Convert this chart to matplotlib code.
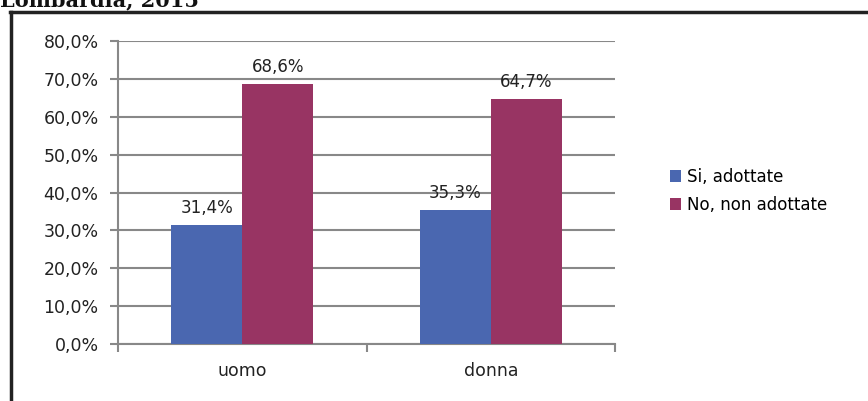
import matplotlib.pyplot as plt
from matplotlib.lines import Line2D
import numpy as np

categories = ['uomo', 'donna']
series_names = ['Si, adottate', 'No, non adottate']
si_values = [31.4, 35.3]
no_values = [68.6, 64.7]
colors = ['#4A67B0', '#983463']

fig = plt.figure(figsize=(8.68, 4.01), dpi=100)
ax = fig.add_axes([118/868, 57/401, 497/868, 303/401])

x = np.arange(len(categories))
w = 0.2857
for i, (vals, name, c) in enumerate(zip([si_values, no_values], series_names, colors)):
    pos = x + (i - 0.5) * w
    ax.bar(pos, vals, width=w, color=c, label=name, zorder=3)
    for p, v in zip(pos, vals):
        ax.annotate(f'{v:.1f}%'.replace('.', ','), (p, v), xytext=(0, 6),
                    textcoords='offset points', ha='center', va='bottom',
                    fontsize=12, color='#222222')

ax.set_xlim(-0.5, 1.5)
ax.set_ylim(0, 80)
ax.set_yticks(np.arange(0, 81, 10))
ax.set_yticklabels([f'{t:.1f}%'.replace('.', ',') for t in np.arange(0, 81, 10)],
                   fontsize=12.5, color='#222222')
ax.set_xticks([-0.5, 0.5, 1.5])
ax.set_xticklabels([])
ax.set_xticks(x, minor=True)
ax.set_xticklabels(categories, minor=True, fontsize=12.5, color='#222222')
ax.tick_params(axis='x', which='minor', length=0, pad=13)
ax.tick_params(axis='x', which='major', length=6, width=1.5, color='#888888')
ax.tick_params(axis='y', length=6, width=1.5, color='#888888', pad=8)
ax.grid(axis='y', color='#888888', linewidth=1.5, zorder=0)
for s in ['top', 'right']:
    ax.spines[s].set_visible(False)
for s in ['left', 'bottom']:
    ax.spines[s].set_color('#888888')
    ax.spines[s].set_linewidth(1.5)

ax.legend(loc='center left', bbox_to_anchor=(1.08, 0.505), frameon=False,
          fontsize=12, handlelength=0.7, handleheight=0.7, handletextpad=0.35,
          labelspacing=0.6)

# outer frame and cut-off heading
fig.add_artist(Line2D([10/868, 1], [1 - 12/401, 1 - 12/401], color='#222222', lw=2.5))
fig.add_artist(Line2D([11/868, 11/868], [0, 1 - 12/401], color='#222222', lw=2.5))
fig.text(0, 1 - 6/401, 'Lombardia, 2015', fontsize=15, fontweight='bold',
         family='DejaVu Serif', va='baseline', ha='left', color='#111111')

fig.savefig('out.png', dpi=100)
